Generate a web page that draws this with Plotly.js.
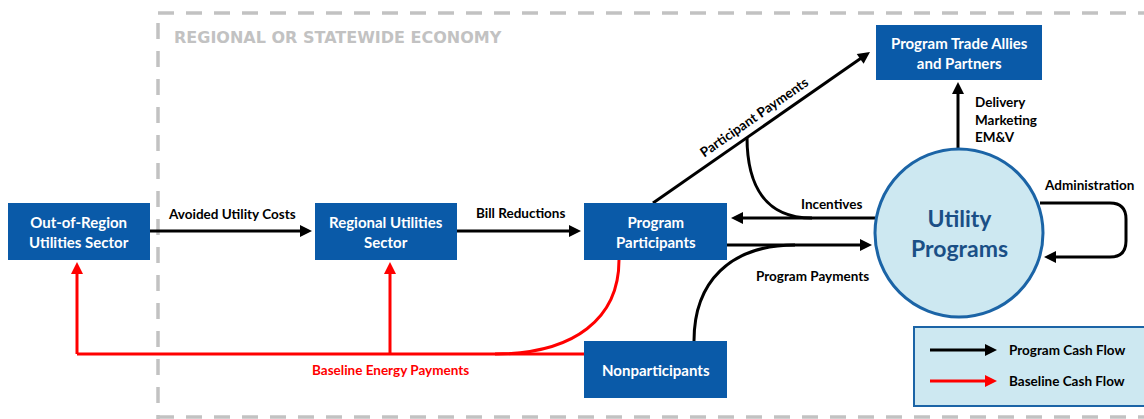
<!DOCTYPE html>
<html>
<head>
<meta charset="utf-8">
<script src="https://cdn.plot.ly/plotly-3.0.1.min.js"></script>
<style>html,body{margin:0;padding:0;background:#fff;}#chart{width:1144px;height:419px;}</style>
</head>
<body>
<div id="chart"></div>
<script>
// ---- Content (text) ----
const regionTitle = 'REGIONAL OR STATEWIDE ECONOMY';
const nodeLabels = ['Out-of-Region<br>Utilities Sector', 'Regional Utilities<br>Sector', 'Program<br>Participants', 'Nonparticipants', 'Program Trade Allies<br>and Partners'];
const hubLabel = 'Utility<br>Programs';
const flowLabels = ['Avoided Utility Costs', 'Bill Reductions', 'Participant Payments', 'Incentives', 'Program Payments', 'Delivery<br>Marketing<br>EM&V', 'Administration', 'Baseline Energy Payments'];
const flowTypes = ['program', 'program', 'program', 'program', 'program', 'program', 'program', 'baseline'];
const legendLabels = ['Program Cash Flow', 'Baseline Cash Flow'];
const legendTypes = ['program', 'baseline'];

// ---- Geometry (pixel space) ----
const nodeBoxes = [
  [8, 150, 203, 260],
  [315, 457, 203, 260],
  [584, 727, 203, 260],
  [584, 727, 341, 398],
  [876, 1042, 25, 80]
];
const hub = {cx: 959, cy: 233, r: 84};
const colors = {program: '#000000', baseline: '#ff0000', box: '#0a5aa8', hubFill: '#cde8f1', hubLine: '#1b64a6', hubText: '#1a4f86', region: '#c2c2c2'};
const FONT = 'Lato, "Open Sans", sans-serif';

const shapes = [];
const annotations = [];

function b(t) { return t.split('<br>').map(s => '<b>' + s + '</b>').join('<br>'); }
function arrowHead(tx, ty, dx, dy, color) {
  const L = 12, W = 6;
  const n = Math.hypot(dx, dy); dx /= n; dy /= n;
  const bx = tx - dx * L, by = ty - dy * L;
  const px = -dy, py = dx;
  shapes.push({type: 'path', xref: 'x', yref: 'y', layer: 'above',
    path: `M ${tx} ${ty} L ${bx + px * W} ${by + py * W} L ${bx - px * W} ${by - py * W} Z`,
    fillcolor: color, line: {color: color, width: 0}});
}
function line(path, color, w) {
  shapes.push({type: 'path', xref: 'x', yref: 'y', layer: 'above', path: path, line: {color: color, width: w || 3}});
}
function arrow(x0, y0, x1, y1, color) {
  const dx = x1 - x0, dy = y1 - y0, n = Math.hypot(dx, dy);
  line(`M ${x0} ${y0} L ${x1 - dx / n * 8} ${y1 - dy / n * 8}`, color, 3);
  arrowHead(x1, y1, dx, dy, color);
}
function label(x, y, text, opts) {
  annotations.push(Object.assign({x: x, y: y, xref: 'x', yref: 'y', text: b(text), showarrow: false,
    font: {family: FONT, size: 13.5, color: '#000'}}, opts || {}));
}

// Region dashed border
line('M 158 13 L 1144 13', colors.region, 3.5);
line('M 158 23 L 158 419', colors.region, 3.5);
line('M 158 417 L 1144 417', colors.region, 3.5);
shapes.forEach(s => { s.line.dash = '16px,12px'; s.layer = 'below'; });
label(172, 37, regionTitle, {xanchor: 'left', font: {family: '"DejaVu Sans", sans-serif', size: 16, color: colors.region}});

// Baseline (red) flows
const red = colors[flowTypes[7]];
line('M 77 354 L 584 354', red, 3);
line('M 619 260 C 619 318, 575 354, 495 354', red, 3);
arrow(77, 354, 77, 262, red);
arrow(390, 354, 390, 262, red);
label(390, 370, flowLabels[7], {font: {family: FONT, size: 13.5, color: red}});

// Program (black) flows
const blk = colors.program;
arrow(150, 231, 312, 231, blk);
label(232, 214, flowLabels[0]);
arrow(457, 231, 581, 231, blk);
label(520, 213, flowLabels[1]);
arrow(653, 203, 870, 52, blk);
label(754, 117, flowLabels[2], {textangle: -34.8});
line('M 747 137 C 747 185, 765 218, 812 218', blk, 3);
arrow(875, 218, 731, 218, blk);
label(831, 204, flowLabels[3]);
line('M 694 341 C 694 282, 730 245, 795 245', blk, 3);
arrow(727, 245, 872, 245, blk);
label(812, 276, flowLabels[4]);
arrow(958, 150, 958, 82, blk);
label(973, 119, flowLabels[5], {xanchor: 'left', align: 'left'});
line('M 1040 203 L 1110 203 Q 1126 203 1126 219 L 1126 241 Q 1126 257 1110 257 L 1052 257', blk, 3);
arrowHead(1044, 257, -1, 0, blk);
label(1089, 185, flowLabels[6]);

// Nodes
nodeBoxes.forEach((bx, i) => {
  shapes.push({type: 'rect', xref: 'x', yref: 'y', x0: bx[0], x1: bx[1], y0: bx[2], y1: bx[3], fillcolor: colors.box, line: {width: 0}, layer: 'above'});
  label((bx[0] + bx[1]) / 2, (bx[2] + bx[3]) / 2, nodeLabels[i], {font: {family: FONT, size: 15, color: '#fff'}});
});

// Hub circle
shapes.push({type: 'circle', xref: 'x', yref: 'y', x0: hub.cx - hub.r, x1: hub.cx + hub.r, y0: hub.cy - hub.r, y1: hub.cy + hub.r,
  fillcolor: colors.hubFill, line: {color: colors.hubLine, width: 3}, layer: 'above'});
label(hub.cx, hub.cy, hubLabel, {font: {family: FONT, size: 23, color: colors.hubText}});

// Legend box
shapes.push({type: 'rect', xref: 'x', yref: 'y', x0: 914, x1: 1146, y0: 327, y1: 406, fillcolor: colors.hubFill, line: {color: colors.hubLine, width: 2}, layer: 'above'});
legendLabels.forEach((t, i) => {
  const y = 350 + i * 31;
  arrow(930, y, 997, y, colors[legendTypes[i]]);
  label(1007, y, t, {xanchor: 'left', font: {family: FONT, size: 13.5, color: '#000'}});
});

const layout = {
  width: 1144, height: 419,
  margin: {l: 0, r: 0, t: 0, b: 0},
  paper_bgcolor: '#fff', plot_bgcolor: '#fff',
  xaxis: {range: [0, 1144], visible: false, fixedrange: true},
  yaxis: {range: [419, 0], visible: false, fixedrange: true},
  showlegend: false,
  shapes: shapes,
  annotations: annotations
};
Plotly.newPlot('chart', [{x: [], y: [], type: 'scatter', mode: 'markers', hoverinfo: 'skip'}], layout, {staticPlot: true, displayModeBar: false});
</script>
</body>
</html>
